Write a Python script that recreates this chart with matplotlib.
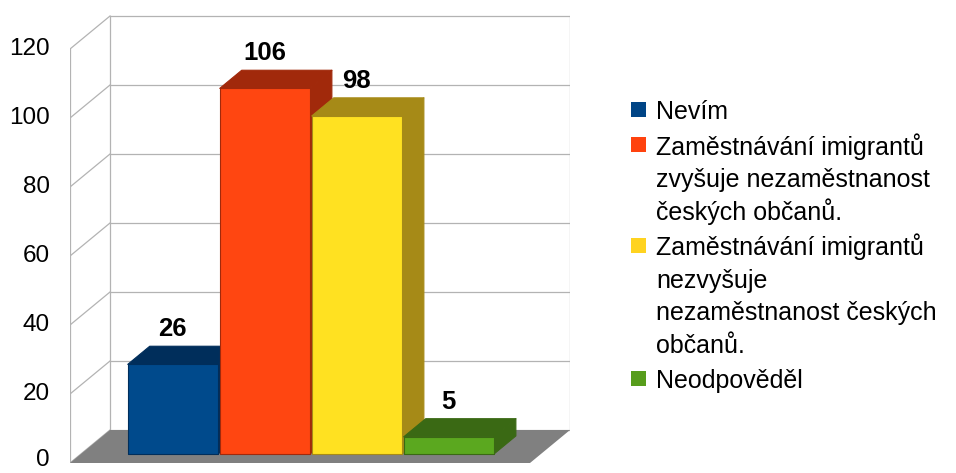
import matplotlib
matplotlib.use('Agg')
import matplotlib.pyplot as plt
from matplotlib.patches import Polygon, Rectangle

plt.rcParams['font.family'] = ['Liberation Sans', 'DejaVu Sans']

# data
categories = ['Nevím',
              'Zaměstnávání imigrantů\nzvyšuje nezaměstnanost\nčeských občanů.',
              'Zaměstnávání imigrantů\nnezvyšuje\nnezaměstnanost českých\nobčanů.',
              'Neodpověděl']
values = [26, 106, 98, 5]
yticks = [0, 20, 40, 60, 80, 100, 120]

front_colors = ['#004a8c', '#ff4611', '#ffe121', '#5ba81f']
dark_colors = ['#002e5b', '#a1290b', '#a68a17', '#3a6914']
legend_colors = ['#004586', '#ff420e', '#ffd320', '#579d1c']

# geometry of the fake 3d box (pixels)
W, H, DPI = 956, 473, 100
left_px, bottom_px, right_px, top_px = 70, 463, 570, 12
px_cat = 92.0
px_val = 3.45
depth_px = (40, 33)

n = len(values)
DX = depth_px[0] / px_cat
DY = depth_px[1] / px_val
d0, d1 = 0.27, 0.82
bw = 0.98
ymax = yticks[-1]

fig = plt.figure(figsize=(W / DPI, H / DPI), dpi=DPI)
ax = fig.add_axes([left_px / W, (H - bottom_px) / H,
                   (right_px - left_px) / W, (bottom_px - top_px) / H])
ax.set_xlim(-1, -1 + (right_px - left_px) / px_cat)
ax.set_ylim(0, (bottom_px - top_px) / px_val)
ax.axis('off')

# y labels on the front edge (the 0 nudged up a bit so it stays inside)
for t in yticks:
    ax.annotate(str(t), (-1, t), xytext=(-14.4, 0 if t else 2.5), textcoords='offset points',
                ha='right', va='center', fontsize=17.5, annotation_clip=False)

grid = '#b3b3b3'
lw = 0.9
# walls
for t in yticks:
    ax.plot([-1 + DX, n + DX], [t + DY, t + DY], color=grid, lw=lw, zorder=1)
    ax.plot([-1, -1 + DX], [t, t + DY], color=grid, lw=lw, zorder=1)
ax.plot([-1, -1], [0, ymax], color=grid, lw=lw, zorder=1)
ax.plot([-1 + DX, -1 + DX], [DY, ymax + DY], color=grid, lw=lw, zorder=1)
ax.plot([n + DX, n + DX], [DY, ymax + DY], color=grid, lw=lw, zorder=1)

# floor
ax.add_patch(Polygon([(-1, 0), (n, 0), (n + DX, DY), (-1 + DX, DY)],
                     closed=True, facecolor='#808080', edgecolor='none', zorder=2))

# bars
for i, v in enumerate(values):
    xl, xr = i - bw / 2, i + bw / 2
    z = 3 + i
    top = [(xl + d0 * DX, v + d0 * DY), (xr + d0 * DX, v + d0 * DY),
           (xr + d1 * DX, v + d1 * DY), (xl + d1 * DX, v + d1 * DY)]
    side = [(xr + d0 * DX, d0 * DY), (xr + d1 * DX, d1 * DY),
            (xr + d1 * DX, v + d1 * DY), (xr + d0 * DX, v + d0 * DY)]
    front = [(xl + d0 * DX, d0 * DY), (xr + d0 * DX, d0 * DY),
             (xr + d0 * DX, v + d0 * DY), (xl + d0 * DX, v + d0 * DY)]
    for pts, fc in [(top, dark_colors[i]), (side, dark_colors[i]), (front, front_colors[i])]:
        ax.add_patch(Polygon(pts, closed=True, facecolor=fc, edgecolor=dark_colors[i],
                             lw=0.8, joinstyle='round', zorder=z))
    ax.text(i + d0 * DX, v + d1 * DY + 17 / px_val, str(v), ha='center', va='center',
            fontsize=18.5, fontweight='bold', zorder=10)

# legend drawn in pixel space
lax = fig.add_axes([0, 0, 1, 1])
lax.set_xlim(0, W)
lax.set_ylim(H, 0)
lax.axis('off')
line_step = 32.5
entry_step = 35.5
y = 119
for lbl, c in zip(categories, legend_colors):
    lax.add_patch(Rectangle((631, y - 17.5), 15, 15, facecolor=c, edgecolor='none'))
    lines = lbl.split('\n')
    for k, line in enumerate(lines):
        lax.text(656, y, line, ha='left', va='baseline', fontsize=18)
        if k < len(lines) - 1:
            y += line_step
    y += entry_step

fig.savefig('out.png', dpi=DPI)
